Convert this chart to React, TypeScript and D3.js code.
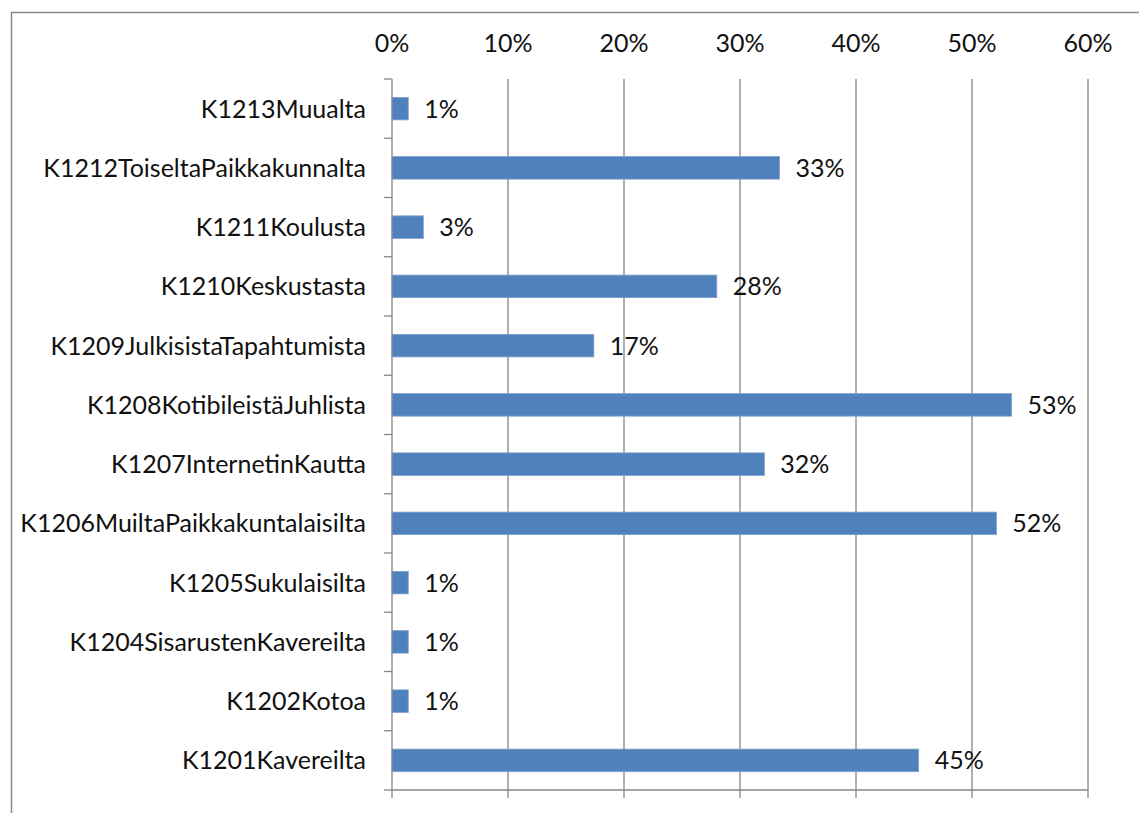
import React from "react";
import * as d3 from "d3";

const categories: string[] = [
  "K1213Muualta",
  "K1212ToiseltaPaikkakunnalta",
  "K1211Koulusta",
  "K1210Keskustasta",
  "K1209JulkisistaTapahtumista",
  "K1208KotibileistäJuhlista",
  "K1207InternetinKautta",
  "K1206MuiltaPaikkakuntalaisilta",
  "K1205Sukulaisilta",
  "K1204SisarustenKavereilta",
  "K1202Kotoa",
  "K1201Kavereilta",
];

const values: number[] = [
  0.014, 0.334, 0.027, 0.28, 0.174, 0.534, 0.321, 0.521, 0.014, 0.014, 0.014, 0.454,
];

const tickValues: number[] = [0, 0.1, 0.2, 0.3, 0.4, 0.5, 0.6];

const W = 1139;
const H = 813;
const plot = { left: 392, right: 1088, top: 79, bottom: 790 };
const FONT = "Lato, 'Open Sans', sans-serif";
const FS = 25;
const GRID = "#868686";

export default function App() {
  const x = d3.scaleLinear().domain([0, 0.6]).range([plot.left, plot.right]);
  const y = d3
    .scaleBand<string>()
    .domain(categories)
    .range([plot.top, plot.bottom])
    .paddingInner(0.62)
    .paddingOuter(0.31);
  const step = (plot.bottom - plot.top) / categories.length;
  const fmt = d3.format(".0%");

  return (
    <div style={{ position: "absolute", left: 0, top: 0 }}>
      <svg width={W} height={H} style={{ display: "block", background: "#fff" }}>
        <rect x={11.5} y={12.5} width={W + 20} height={H + 20} fill="#fff" stroke="#898989" strokeWidth={1.5} />
        {/* gridlines */}
        {tickValues.slice(1).map((t) => (
          <line key={"g" + t} x1={x(t)} x2={x(t)} y1={plot.top} y2={plot.bottom + 8} stroke={GRID} strokeWidth={1.3} />
        ))}
        {/* tick labels */}
        {tickValues.map((t) => (
          <text key={"t" + t} x={x(t)} y={52} textAnchor="middle" fontFamily={FONT} fontSize={FS} fill="#111">
            {fmt(t)}
          </text>
        ))}
        {/* bars */}
        {categories.map((c, i) => (
          <rect
            key={"b" + c}
            x={x(0)}
            y={y(c)!}
            width={x(values[i]) - x(0)}
            height={y.bandwidth()}
            fill="#4F81BD"
            stroke="#7DA0CC"
            strokeWidth={0.8}
          />
        ))}
        {/* value labels */}
        {categories.map((c, i) => (
          <text
            key={"v" + c}
            x={x(values[i]) + 16}
            y={y(c)! + y.bandwidth() / 2}
            dy="0.36em"
            fontFamily={FONT}
            fontSize={FS}
            fill="#111"
          >
            {fmt(values[i])}
          </text>
        ))}
        {/* category labels */}
        {categories.map((c) => (
          <text
            key={"c" + c}
            x={366}
            y={y(c)! + y.bandwidth() / 2}
            dy="0.36em"
            textAnchor="end"
            fontFamily={FONT}
            fontSize={FS}
            fill="#111"
          >
            {c}
          </text>
        ))}
        {/* category axis */}
        <line x1={plot.left} x2={plot.left} y1={plot.top} y2={plot.bottom + 8} stroke={GRID} strokeWidth={1.3} />
        {d3.range(categories.length + 1).map((i) => (
          <line
            key={"ct" + i}
            x1={plot.left - 8}
            x2={plot.left}
            y1={plot.top + i * step}
            y2={plot.top + i * step}
            stroke={GRID}
            strokeWidth={1.3}
          />
        ))}
        {/* value axis line at bottom */}
        <line x1={plot.left} x2={plot.right} y1={plot.bottom} y2={plot.bottom} stroke={GRID} strokeWidth={1.3} />
      </svg>
    </div>
  );
}
